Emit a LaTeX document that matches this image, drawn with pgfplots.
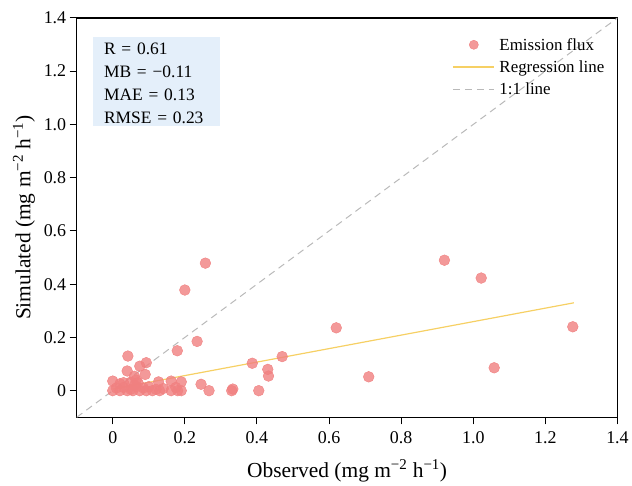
\documentclass[border=0pt]{standalone}
\usepackage{fontspec}
\setmainfont{Liberation Serif}
\usepackage{pgfplots}
\pgfplotsset{compat=1.18}
\definecolor{ptcol}{RGB}{240,128,128}
\definecolor{regcol}{RGB}{246,208,100}
\definecolor{onecol}{RGB}{185,185,185}
\definecolor{boxcol}{RGB}{228,239,250}
\pgfplotsset{
  longline/.style={legend image code/.code={\draw[##1] (0pt,0pt) -- (41pt,0pt); \path (44pt,0pt);}},
  midmark/.style={legend image code/.code={\draw[##1] plot coordinates {(21pt,0pt)}; \path (0pt,0pt) (44pt,0pt);}},
}
\begin{document}
\begin{tikzpicture}
\begin{axis}[
  name=ax,
  scale only axis, width=543pt, height=401pt,
  xmin=-0.1, xmax=1.4, ymin=-0.1, ymax=1.4,
  xtick={0,0.2,0.4,0.6,0.8,1.0,1.2,1.4},
  ytick={0,0.2,0.4,0.6,0.8,1.0,1.2,1.4},
  xticklabels={0,0.2,0.4,0.6,0.8,1.0,1.2,1.4},
  yticklabels={0,0.2,0.4,0.6,0.8,1.0,1.2,1.4},
  xtick pos=bottom, ytick pos=left, tick align=outside,
  major tick length=7pt,
  axis line style={line width=1.3pt},
  every tick/.style={black, line width=1pt},
  ticklabel style={font=\fontsize{18}{20}\selectfont},
  xticklabel style={yshift=-4pt},
  xlabel={Observed (mg m\textsuperscript{−2} h\textsuperscript{−1})},
  ylabel={Simulated (mg m\textsuperscript{−2} h\textsuperscript{−1})},
  every axis x label/.style={at={(rel axis cs:0.5,0)}, anchor=center, yshift=-54pt,
    font=\fontsize{21.5}{24}\selectfont},
  every axis y label/.style={at={(rel axis cs:0,0.5)}, xshift=-53pt, rotate=90, anchor=center,
    font=\fontsize{21.5}{24}\selectfont},
  legend style={draw=none, fill=none, at={(rel axis cs:0.9834,0.960)}, anchor=north east,
    font=\fontsize{17}{19}\selectfont, row sep=5pt, inner sep=2pt},
  legend cell align=left,
  clip=true,
]
% 1:1 line
\addplot[onecol, line width=1pt, dash pattern=on 7pt off 5pt, forget plot] coordinates {(-0.1,-0.1) (1.4,1.4)};
% observed vs simulated
\addplot[only marks, mark=*, mark size=5.4pt, color=ptcol, mark options={draw=none, fill=ptcol, fill opacity=0.8}, forget plot]
coordinates {
(0.92,0.49) (1.022,0.423) (1.276,0.24) (1.058,0.086) (0.71,0.052) (0.62,0.236)
(0.47,0.128) (0.43,0.08) (0.432,0.055) (0.387,0.103) (0.405,0) (0.33,0) (0.333,0.006)
(0.257,0.479) (0.20,0.378) (0.234,0.185) (0.179,0.15) (0.267,0) (0.245,0.024)
(0.042,0.13) (0.093,0.105) (0.075,0.092) (0.04,0.074) (0.09,0.061) (0.06,0.054)
(0.0,0.036) (0.02,0.026) (0.05,0.032) (0.127,0.033) (0.162,0.036) (0.19,0.033)
(0.0,0) (0.02,0) (0.04,0) (0.056,0) (0.075,0) (0.093,0) (0.11,0) (0.13,0)
(0.162,0) (0.18,0) (0.19,0) (0.01,0.01) (0.03,0.012) (0.065,0.015) (0.085,0.01)
(0.14,0.008) (0.175,0.012) (0.05,0.005) (0.06,0.02) (0.07,0.03) (0.03,0.03)
(0.12,0.005) (0.1,0.015) (0.065,0.04)
};
% regression line
\addplot[regcol, line width=1.2pt, forget plot] coordinates {(0.0,0.006) (1.279,0.33)};
\addlegendimage{only marks, mark=*, mark size=4.6pt, color=ptcol, mark options={draw=none, fill=ptcol, fill opacity=0.8}, midmark}
\addlegendentry{Emission flux}
\addlegendimage{color=regcol, line width=1.5pt, longline}
\addlegendentry{Regression line}
\addlegendimage{onecol, line width=1pt, dash pattern=on 7pt off 5pt, longline}
\addlegendentry{1:1 line}
\node[anchor=north west, fill=boxcol, inner xsep=11pt, inner ysep=3pt, text width=105pt, align=left,
  font=\fontsize{17.5}{23}\selectfont] at (axis cs:-0.055,1.33)
  {\rule{0pt}{14.8pt}R = 0.61\\MB = −0.11\\MAE = 0.13\\RMSE = 0.23};
\end{axis}
\path (ax.south west) ++(-77pt,-67pt);
\path (ax.north east) ++(12pt,18pt);
\end{tikzpicture}
\end{document}
